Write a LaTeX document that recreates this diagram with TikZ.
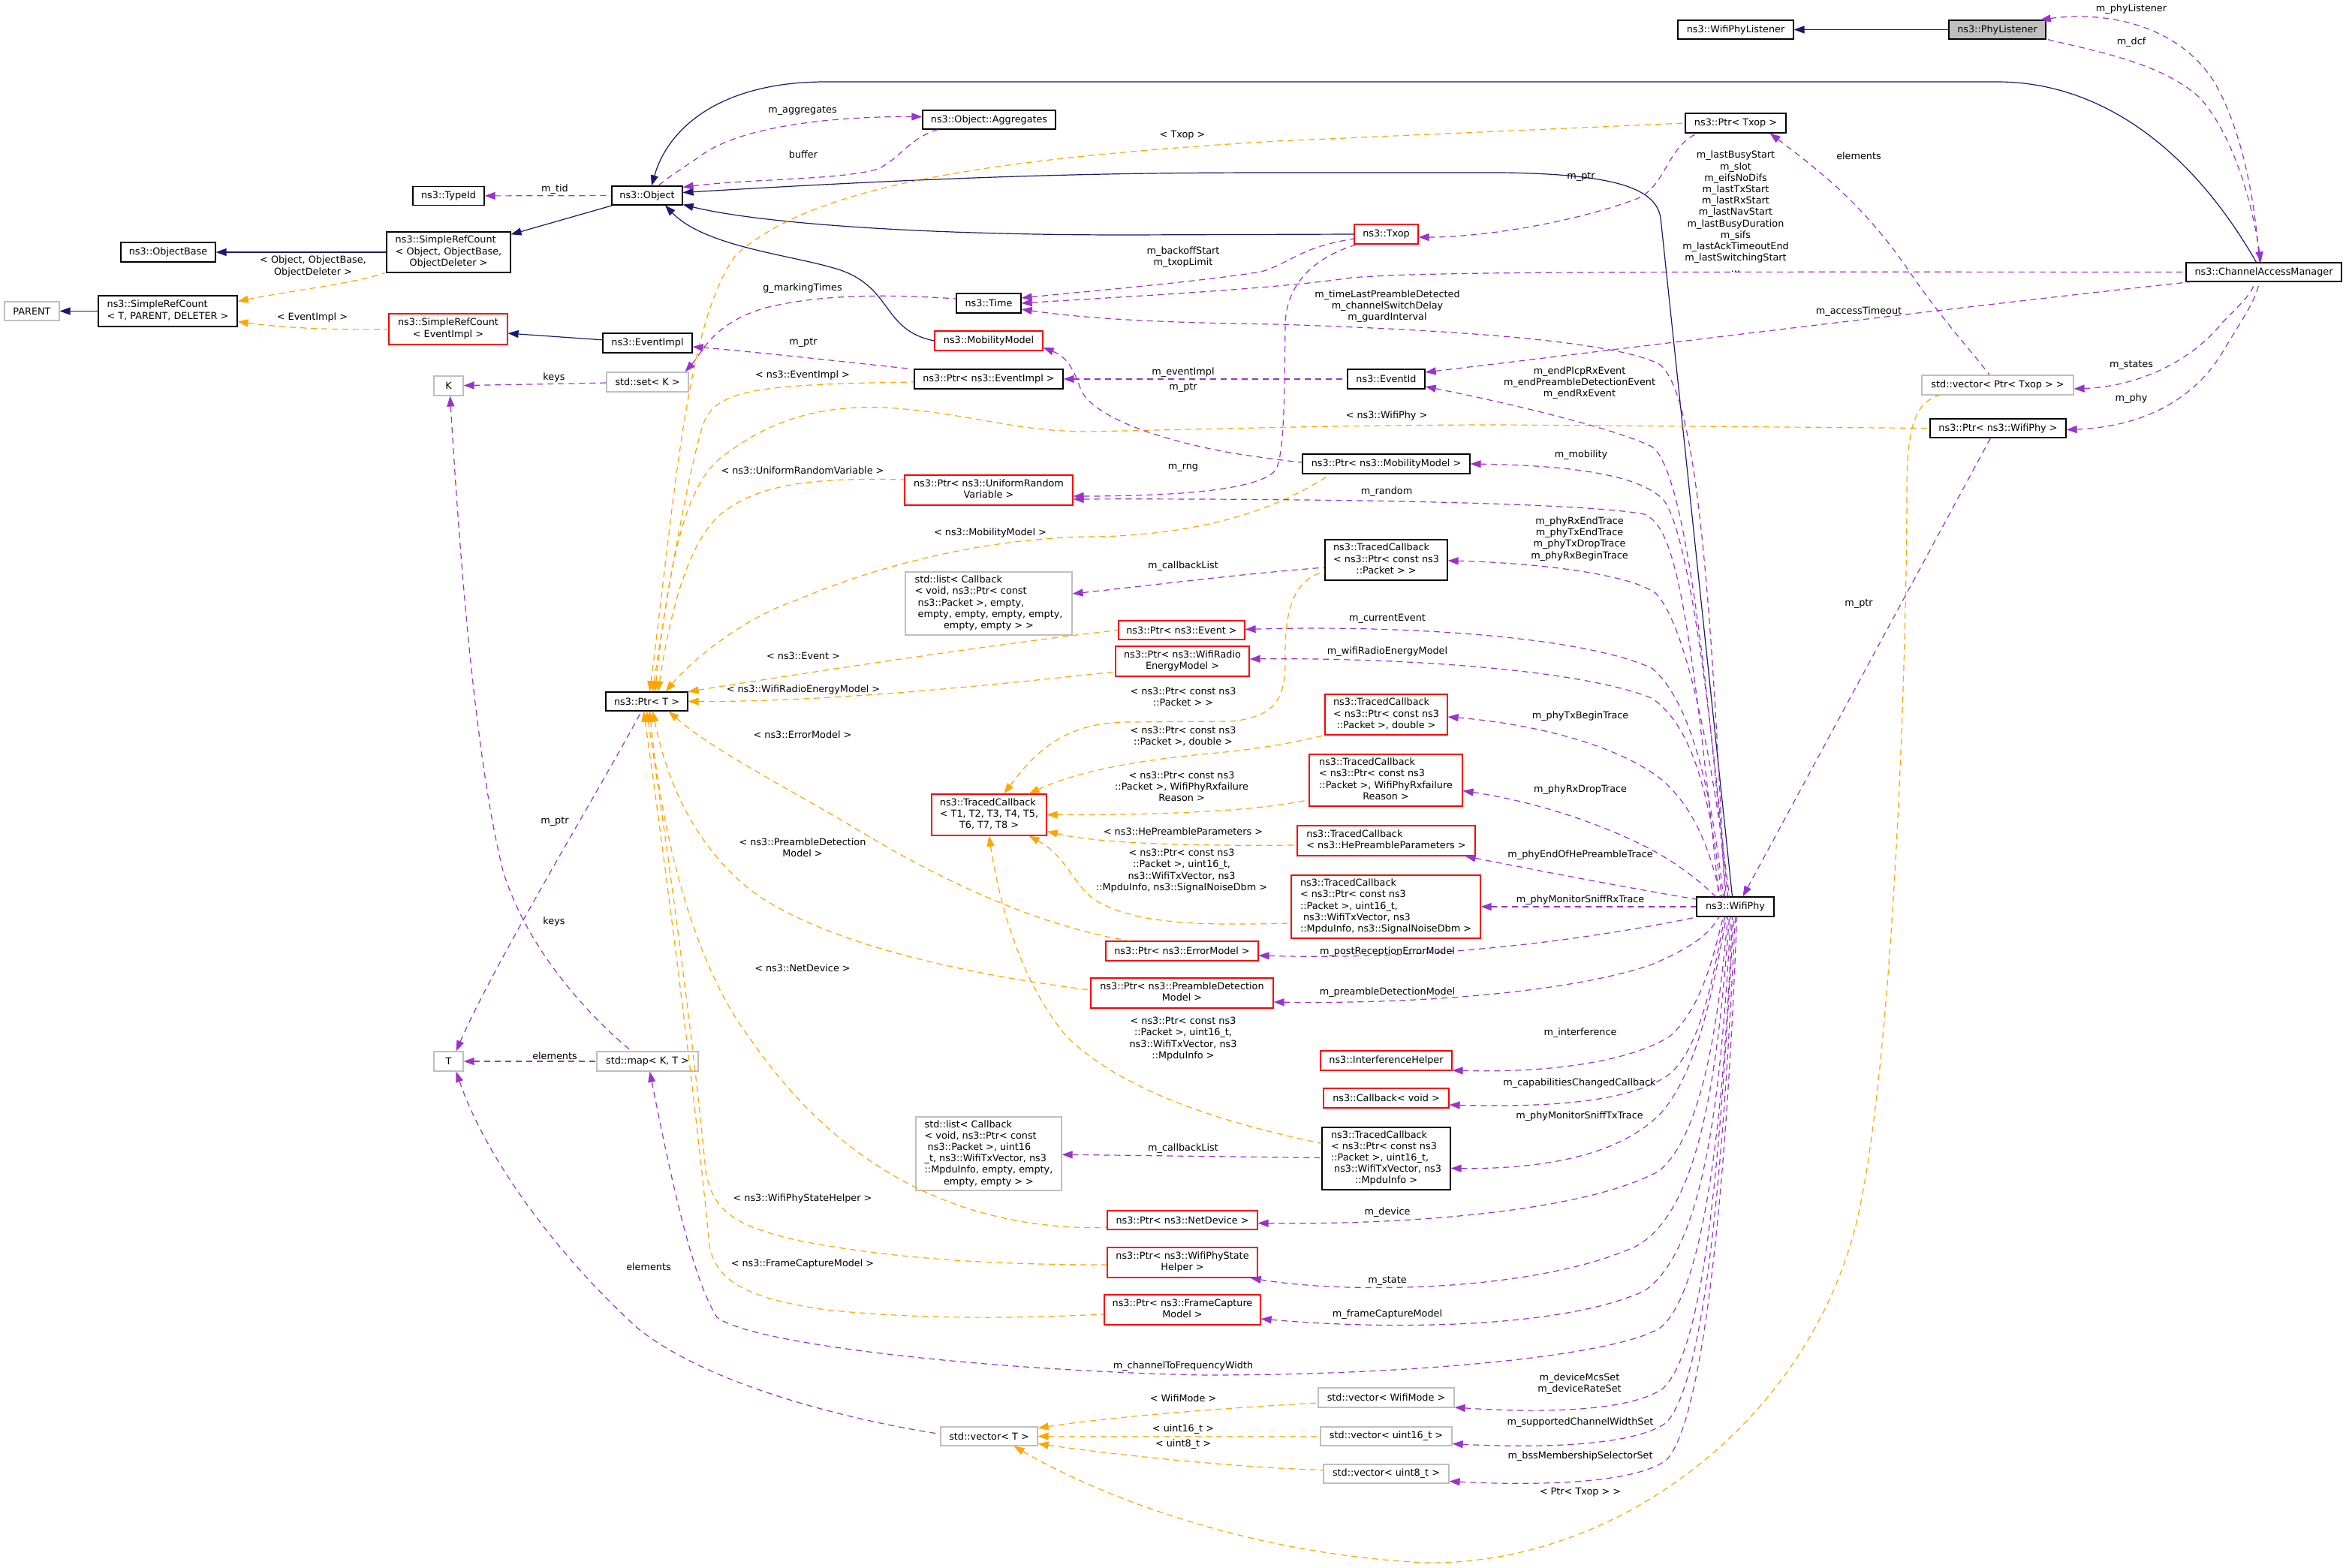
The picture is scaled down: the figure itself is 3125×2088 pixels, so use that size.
\documentclass[tikz,border=0pt]{standalone}
\usepackage{fontspec}
\setmainfont{DejaVu Sans}
\usetikzlibrary{arrows.meta,calc}
\definecolor{navyc}{RGB}{25,25,112}
\definecolor{purplec}{RGB}{154,50,205}
\definecolor{orangec}{RGB}{255,165,0}
\definecolor{greyc}{HTML}{BFBFBF}
\newcommand{\nfont}{\fontsize{6.4pt}{7.6pt}\selectfont}
\newcommand{\ml}[2]{\begin{tabular}{@{}l@{}}#1\\\multicolumn{1}{@{}c@{}}{#2}\end{tabular}}
\tikzset{
  box/.style={draw=black, line width=0.6pt, inner sep=0pt, fill=white, font=\nfont},
  rbox/.style={box, draw=red},
  gbox/.style={box, draw=greyc},
  sz/.style 2 args={minimum width={#1*0.5pt}, minimum height={#2*0.5pt}},
  inh/.style={draw=navyc, line width=0.6pt, {Triangle[length=7pt,width=5pt]}-},
  tmpl/.style={draw=orangec, line width=0.6pt, dash pattern=on 4pt off 3pt, {Triangle[length=7pt,width=5pt]}-},
  use/.style={draw=purplec, line width=0.6pt, dash pattern=on 4pt off 3pt, {Triangle[length=7pt,width=5pt]}-},
  lbl/.style={font=\nfont, align=center, inner sep=0pt}
}
\begin{document}
\begin{tikzpicture}[x=0.5pt,y=-0.5pt]
\path[fill=white,use as bounding box] (0,0) rectangle (3125,2088);

% ---------- nodes ----------
\node[box, sz={154}{25}] (wpl) at (2312,39.5) {ns3::WifiPhyListener};
\node[box, fill=greyc, sz={129}{25}] (phyl) at (2660.5,39.5) {ns3::PhyListener};
\node[box, sz={177}{25}] (aggr) at (1317.5,159.5) {ns3::Object::Aggregates};
\node[box, sz={134}{26}] (ptxop) at (2312,164) {ns3::Ptr< Txop >};
\node[box, sz={95}{25}] (typeid) at (597.5,261) {ns3::TypeId};
\node[box, sz={94}{25}] (object) at (862,260.5) {ns3::Object};
\node[rbox, sz={85}{26}] (txop) at (1846.5,312) {ns3::Txop};
\node[box, sz={165}{54}] (sro) at (597.5,336) {\ml{ns3::SimpleRefCount\\< Object, ObjectBase,}{ObjectDeleter >}};
\node[box, sz={126}{26}] (obase) at (224,336) {ns3::ObjectBase};
\node[box, sz={207}{25}] (cam) at (3015.5,362.5) {ns3::ChannelAccessManager};
\node[gbox, sz={73}{25}] (parent) at (42.5,414.5) {PARENT};
\node[box, sz={185}{41}] (srt) at (223.5,414.5) {\ml{ns3::SimpleRefCount}{< T, PARENT, DELETER >}};
\node[box, sz={86}{26}] (time) at (1317,404) {ns3::Time};
\node[rbox, sz={158}{41}] (sre) at (597,438.5) {\ml{ns3::SimpleRefCount}{< EventImpl >}};
\node[rbox, sz={144}{26}] (mobm) at (1317,454) {ns3::MobilityModel};
\node[box, sz={119}{26}] (eimpl) at (862.5,457) {ns3::EventImpl};
\node[gbox, sz={109}{26}] (stdset) at (862.5,509) {std::set< K >};
\node[gbox, sz={39}{26}] (K) at (597.5,514) {K};
\node[box, sz={198}{26}] (pei) at (1317,505) {ns3::Ptr< ns3::EventImpl >};
\node[box, sz={103}{26}] (eventid) at (1846.5,505) {ns3::EventId};
\node[gbox, sz={202}{26}] (vptxop) at (2661,513) {std::vector< Ptr< Txop > >};
\node[box, sz={181}{25}] (pwp) at (2661.5,570.5) {ns3::Ptr< ns3::WifiPhy >};
\node[box, sz={223}{26}] (pmm) at (1846.5,618) {ns3::Ptr< ns3::MobilityModel >};
\node[rbox, sz={224}{40}] (purv) at (1317,653) {\ml{ns3::Ptr< ns3::UniformRandom}{Variable >}};
\node[box, sz={163}{54}] (tcp) at (1846.5,746) {\ml{ns3::TracedCallback\\< ns3::Ptr< const ns3}{::Packet > >}};
\node[gbox, sz={222}{84}] (list1) at (1317,804) {\ml{std::list< Callback\\< void, ns3::Ptr< const\\\ ns3::Packet >, empty,\\\ empty, empty, empty, empty,}{empty, empty > >}};
\node[rbox, sz={168}{25}] (pev) at (1574,839.5) {ns3::Ptr< ns3::Event >};
\node[rbox, sz={178}{40}] (pwre) at (1575,881) {\ml{ns3::Ptr< ns3::WifiRadio}{EnergyModel >}};
\node[box, sz={109}{25}] (ptrT) at (861.5,934.5) {ns3::Ptr< T >};
\node[rbox, sz={163}{54}] (tcd) at (1846.5,952) {\ml{ns3::TracedCallback\\< ns3::Ptr< const ns3}{::Packet >, double >}};
\node[rbox, sz={153}{55}] (tcgen) at (1317.5,1085.5) {\ml{ns3::TracedCallback\\< T1, T2, T3, T4, T5,}{T6, T7, T8 >}};
\node[rbox, sz={204}{69}] (tcrx) at (1846,1039.5) {\ml{ns3::TracedCallback\\< ns3::Ptr< const ns3\\::Packet >, WifiPhyRxfailure}{Reason >}};
\node[rbox, sz={237}{40}] (tche) at (1846.5,1120) {\ml{ns3::TracedCallback}{< ns3::HePreambleParameters >}};
\node[rbox, sz={252}{84}] (tcsn) at (1846,1208) {\ml{ns3::TracedCallback\\< ns3::Ptr< const ns3\\::Packet >, uint16\_t,\\\ ns3::WifiTxVector, ns3}{::MpduInfo, ns3::SignalNoiseDbm >}};
\node[box, sz={103}{26}] (wifiphy) at (2311.5,1208) {ns3::WifiPhy};
\node[rbox, sz={203}{26}] (perr) at (1574.5,1267) {ns3::Ptr< ns3::ErrorModel >};
\node[rbox, sz={243}{40}] (ppd) at (1574.5,1323) {\ml{ns3::Ptr< ns3::PreambleDetection}{Model >}};
\node[gbox, sz={39}{26}] (T) at (597.5,1414) {T};
\node[gbox, sz={135}{26}] (map) at (862.5,1414) {std::map< K, T >};
\node[rbox, sz={175}{26}] (ih) at (1846.5,1413) {ns3::InterferenceHelper};
\node[rbox, sz={167}{26}] (cbv) at (1846.5,1463) {ns3::Callback< void >};
\node[gbox, sz={194}{98}] (list2) at (1317,1537) {\ml{std::list< Callback\\< void, ns3::Ptr< const\\\ ns3::Packet >, uint16\\\_t, ns3::WifiTxVector, ns3\\::MpduInfo, empty, empty,}{empty, empty > >}};
\node[box, sz={171}{83}] (tcm) at (1846.5,1543.5) {\ml{ns3::TracedCallback\\< ns3::Ptr< const ns3\\::Packet >, uint16\_t,\\\ ns3::WifiTxVector, ns3}{::MpduInfo >}};
\node[rbox, sz={200}{25}] (pnd) at (1575,1625.5) {ns3::Ptr< ns3::NetDevice >};
\node[rbox, sz={200}{40}] (pwsh) at (1575,1682) {\ml{ns3::Ptr< ns3::WifiPhyState}{Helper >}};
\node[rbox, sz={208}{40}] (pfc) at (1575,1745) {\ml{ns3::Ptr< ns3::FrameCapture}{Model >}};
\node[gbox, sz={181}{26}] (vwm) at (1846.5,1862) {std::vector< WifiMode >};
\node[gbox, sz={129}{25}] (vT) at (1317.5,1913.5) {std::vector< T >};
\node[gbox, sz={175}{25}] (vu16) at (1846.5,1913.5) {std::vector< uint16\_t >};
\node[gbox, sz={167}{25}] (vu8) at (1846.5,1963.5) {std::vector< uint8\_t >};

% ---------- inheritance ----------
\draw[inh] (sro) -- (object);
\draw[inh] (obase) -- (sro);
\draw[inh] (parent) -- (srt);
\draw[inh] (sre) -- (eimpl);
\draw[inh] ($(object.north)+(6,0)$) .. controls (890,170) and (960,109) .. (1100,109) -- (2660,109) .. controls (2800,109) and (2920,200) .. ($(cam.north)+(-10,0)$);
\draw[inh] ($(object.east)+(0,-4)$) .. controls (1300,233) and (1500,230) .. (1700,230) -- (2000,230) .. controls (2150,232) and (2205,250) .. (2212,290) -- ($(wifiphy.north)+(-4,0)$);
\draw[inh] ($(object.east)+(0,12)$) .. controls (1000,295) and (1200,313) .. (1500,313) -- (txop.west);
\draw[inh] ($(object.south)+(24,0)$) .. controls (940,330) and (1060,340) .. (1120,360) .. controls (1190,385) and (1175,440) .. (mobm.west);
\draw[inh] (wpl) -- (phyl);

% ---------- template instances ----------
\draw[tmpl] ($(srt.east)+(0,-13)$) .. controls (400,385) and (470,378) .. ($(sro.south west)+(-2,0)$);
\draw[tmpl] ($(srt.east)+(0,14)$) .. controls (380,437) and (450,440) .. (sre.west);
\draw[tmpl] ($(ptrT.north)+(4,0)$) .. controls (900,650) and (915,430) .. (980,340) .. controls (1080,250) and (1300,212) .. (1700,188) -- (ptxop.west);
\draw[tmpl] ($(ptrT.north)+(8,0)$) .. controls (890,780) and (915,640) .. (935,570) .. controls (950,520) and (1000,512) .. ($(pei.west)+(0,4)$);
\draw[tmpl] ($(ptrT.north)+(11,0)$) .. controls (890,760) and (910,650) .. (960,610) .. controls (1030,555) and (1100,540) .. (1180,543) .. controls (1290,550) and (1350,575) .. (1450,575) .. controls (1600,572) and (1800,566) .. (2000,566) -- (pwp.west);
\draw[tmpl] ($(ptrT.north)+(15,0)$) .. controls (895,800) and (920,720) .. (960,685) .. controls (1010,645) and (1080,636) .. ($(purv.west)+(0,-14)$);
\draw[tmpl] ($(ptrT.north east)+(-30,0)$) .. controls (930,870) and (1000,820) .. (1060,800) .. controls (1200,740) and (1350,715) .. (1460,715) .. controls (1600,712) and (1700,680) .. ($(pmm.south west)+(38,0)$);
\draw[tmpl] ($(ptrT.east)+(0,-13)$) .. controls (1100,892) and (1350,855) .. (pev.west);
\draw[tmpl] (ptrT.east) .. controls (1100,935) and (1300,915) .. ($(pwre.west)+(0,14)$);
\draw[tmpl] ($(ptrT.south east)+(-26,0)$) .. controls (950,1000) and (1050,1050) .. (1150,1110) .. controls (1300,1200) and (1420,1240) .. ($(perr.north west)+(32,0)$);
\draw[tmpl] ($(ptrT.south)+(8,0)$) .. controls (890,1050) and (930,1130) .. (1000,1186) .. controls (1100,1260) and (1300,1300) .. ($(ppd.west)+(0,-4)$);
\draw[tmpl] ($(ptrT.south)+(4,0)$) .. controls (880,1100) and (920,1280) .. (1000,1385) .. controls (1100,1530) and (1250,1640) .. ($(pnd.west)+(0,10)$);
\draw[tmpl] (ptrT.south) .. controls (900,1200) and (930,1450) .. (940,1560) .. controls (950,1620) and (990,1635) .. (1060,1652) .. controls (1200,1680) and (1350,1685) .. ($(pwsh.west)+(0,3)$);
\draw[tmpl] ($(ptrT.south)+(-4,0)$) .. controls (900,1250) and (935,1550) .. (945,1660) .. controls (955,1710) and (1000,1730) .. (1100,1745) .. controls (1250,1760) and (1380,1755) .. ($(pfc.west)+(0,6)$);
\draw[tmpl] ($(tcgen.north)+(20,0)$) .. controls (1380,1000) and (1420,963) .. (1500,962) -- (1640,961) .. controls (1700,955) and (1712,930) .. (1712,880) .. controls (1710,800) and (1730,770) .. ($(tcp.west)+(0,16)$);
\draw[tmpl] ($(tcgen.north east)+(-24,0)$) .. controls (1430,1030) and (1500,1015) .. (1600,1005) .. controls (1680,998) and (1720,990) .. (tcd.south west);
\draw[tmpl] (tcgen.east) .. controls (1550,1086) and (1680,1080) .. ($(tcrx.west)+(0,26)$);
\draw[tmpl] ($(tcgen.east)+(0,22)$) .. controls (1470,1125) and (1600,1127) .. ($(tche.west)+(0,6)$);
\draw[tmpl] ($(tcgen.south east)+(-24,0)$) .. controls (1420,1140) and (1430,1180) .. (1460,1200) .. controls (1520,1235) and (1620,1232) .. ($(tcsn.west)+(0,22)$);
\draw[tmpl] (tcgen.south) .. controls (1335,1230) and (1370,1320) .. (1420,1380) .. controls (1500,1460) and (1650,1500) .. ($(tcm.west)+(0,-20)$);
\draw[tmpl] ($(vT.east)+(0,-11)$) .. controls (1500,1885) and (1650,1875) .. ($(vwm.west)+(0,7)$);
\draw[tmpl] (vT.east) -- (vu16.west);
\draw[tmpl] ($(vT.east)+(0,10)$) .. controls (1500,1940) and (1650,1955) .. ($(vu8.west)+(0,-5)$);
\draw[tmpl] ($(vT.south east)+(-32,0)$) .. controls (1450,1985) and (1650,2070) .. (1900,2082) .. controls (2150,2085) and (2400,1900) .. (2470,1640) .. controls (2520,1450) and (2540,900) .. (2540,650) .. controls (2540,560) and (2555,535) .. ($(vptxop.south west)+(24,0)$);

% ---------- usage ----------
\draw[use] (typeid) -- (object);
\draw[use] ($(aggr.west)+(0,-4)$) .. controls (1100,155) and (980,170) .. (930,210) .. controls (900,230) and (885,240) .. ($(object.north)+(15,0)$);
\draw[use] ($(object.north east)+(0,2)$) .. controls (1000,238) and (1120,240) .. (1170,225) .. controls (1200,210) and (1210,185) .. ($(aggr.south west)+(21,0)$);
\draw[use] ($(stdset.north east)+(-5,0)$) .. controls (935,470) and (950,430) .. (1020,410) .. controls (1100,390) and (1200,393) .. ($(time.west)+(0,-6)$);
\draw[use] (K) -- (stdset);
\draw[use] ($(eimpl.east)+(0,5)$) .. controls (1020,470) and (1150,485) .. ($(pei.north west)+(-4,0)$);
\draw[use] (pei) -- (eventid);
\draw[use] ($(mobm.east)+(0,9)$) .. controls (1420,475) and (1430,490) .. (1440,520) .. controls (1460,560) and (1560,590) .. (1650,605) .. controls (1690,611) and (1715,614) .. ($(pmm.west)+(0,-2)$);
\draw[use] ($(purv.east)+(0,8)$) .. controls (1550,661) and (1680,655) .. (1700,625) .. controls (1712,600) and (1711,500) .. (1712,430) .. controls (1715,370) and (1760,340) .. ($(txop.south west)+(4,0)$);
\draw[use] ($(purv.east)+(0,12)$) .. controls (1700,664) and (2100,668) .. (2190,685) .. controls (2230,700) and (2250,800) .. ($(wifiphy.north)+(-22,0)$);
\draw[use] ($(txop.east)+(0,4)$) .. controls (1980,316) and (2100,295) .. (2180,265) .. controls (2220,248) and (2220,195) .. ($(ptxop.south west)+(17,0)$);
\draw[use] ($(time.east)+(0,-7)$) .. controls (1450,388) and (1600,375) .. (1680,362) .. controls (1720,350) and (1730,330) .. ($(txop.west)+(0,6)$);
\draw[use] (time.east) .. controls (1500,395) and (1700,385) .. (1800,370) .. controls (1900,362) and (2100,362) .. (cam.west);
\draw[use] ($(time.east)+(0,8)$) .. controls (1450,425) and (1550,430) .. (1700,432) .. controls (1950,440) and (2150,455) .. (2210,485) .. controls (2260,520) and (2280,800) .. ($(wifiphy.north)+(-14,0)$);
\draw[use] ($(eventid.east)+(0,-9)$) .. controls (2200,460) and (2600,410) .. ($(cam.south west)+(6,0)$);
\draw[use] ($(eventid.east)+(0,10)$) .. controls (2000,535) and (2150,570) .. (2200,595) .. controls (2240,620) and (2270,850) .. ($(wifiphy.north)+(-12,0)$);
\draw[use] ($(phyl.north east)+(-8,0)$) .. controls (2800,15) and (2900,30) .. (2950,110) .. controls (2990,180) and (3005,280) .. ($(cam.north)+(-6,0)$);
\draw[use] ($(cam.north)+(-4,0)$) .. controls (3000,270) and (2975,180) .. (2930,130) .. controls (2880,85) and (2800,70) .. ($(phyl.south east)+(2,0)$);
\draw[use] ($(vptxop.east)+(0,5)$) .. controls (2850,515) and (2920,480) .. (2960,430) .. controls (2990,400) and (3000,390) .. ($(cam.south)+(-12,0)$);
\draw[use] ($(pwp.east)+(0,2)$) .. controls (2870,568) and (2930,520) .. (2960,470) .. controls (2990,420) and (3005,400) .. ($(cam.south)+(-6,0)$);
\draw[use] ($(ptxop.south east)+(-22,0)$) .. controls (2420,225) and (2480,270) .. (2540,357) .. controls (2590,430) and (2620,460) .. ($(vptxop.north)+(-11,0)$);
\draw[use] ($(wifiphy.north)+(10,0)$) -- ($(pwp.south)+(-10,0)$);
\draw[use] (pmm.east) .. controls (2080,620) and (2180,630) .. (2215,665) .. controls (2245,700) and (2275,900) .. ($(wifiphy.north)+(-10,0)$);
\draw[use] ($(list1.east)+(0,-13)$) .. controls (1550,778) and (1650,765) .. ($(tcp.west)+(0,10)$);
\draw[use] ($(tcp.east)+(0,1)$) .. controls (2050,750) and (2170,765) .. (2205,790) .. controls (2245,830) and (2280,1000) .. ($(wifiphy.north)+(-8,0)$);
\draw[use] ($(pev.east)+(0,-1)$) .. controls (1850,833) and (2100,845) .. (2200,890) .. controls (2250,930) and (2280,1050) .. ($(wifiphy.north)+(-16,0)$);
\draw[use] ($(pwre.east)+(0,-3)$) .. controls (1850,876) and (2100,890) .. (2200,930) .. controls (2260,970) and (2280,1080) .. ($(wifiphy.north)+(-18,0)$);
\draw[use] ($(tcd.east)+(0,3)$) .. controls (2050,965) and (2160,995) .. (2215,1040) .. controls (2260,1080) and (2280,1140) .. ($(wifiphy.north)+(-20,0)$);
\draw[use] ($(tcrx.east)+(0,14)$) .. controls (2060,1070) and (2170,1110) .. (2230,1150) .. controls (2260,1170) and (2275,1185) .. ($(wifiphy.north)+(-26,0)$);
\draw[use] ($(tche.south east)+(-14,0)$) .. controls (2050,1160) and (2180,1185) .. ($(wifiphy.west)+(0,-10)$);
\draw[use] (tcsn) -- (wifiphy);
\draw[use] ($(perr.east)+(0,6)$) .. controls (1850,1278) and (2050,1265) .. ($(wifiphy.south west)+(2,0)$);
\draw[use] ($(ppd.east)+(0,12)$) .. controls (1900,1338) and (2100,1320) .. (2200,1285) .. controls (2260,1260) and (2280,1240) .. ($(wifiphy.south)+(-22,0)$);
\draw[use] ($(ih.east)+(0,13)$) .. controls (2080,1430) and (2180,1410) .. (2225,1380) .. controls (2270,1340) and (2285,1260) .. ($(wifiphy.south)+(-16,0)$);
\draw[use] ($(cbv.east)+(0,9)$) .. controls (2080,1476) and (2180,1465) .. (2225,1430) .. controls (2270,1390) and (2285,1280) .. ($(wifiphy.south)+(-14,0)$);
\draw[use] ($(tcm.east)+(0,13)$) .. controls (2080,1558) and (2170,1530) .. (2215,1480) .. controls (2265,1420) and (2285,1300) .. ($(wifiphy.south)+(-12,0)$);
\draw[use] (list2) -- (tcm);
\draw[use] ($(pnd.east)+(0,4)$) .. controls (1900,1632) and (2120,1610) .. (2210,1560) .. controls (2270,1510) and (2290,1350) .. ($(wifiphy.south)+(-10,0)$);
\draw[use] ($(pwsh.south east)+(-10,0)$) .. controls (1800,1725) and (2050,1720) .. (2180,1660) .. controls (2270,1610) and (2290,1400) .. ($(wifiphy.south)+(-8,0)$);
\draw[use] ($(pfc.east)+(0,12)$) .. controls (1850,1772) and (2080,1770) .. (2190,1720) .. controls (2280,1660) and (2295,1400) .. ($(wifiphy.south)+(-6,0)$);
\draw[use] ($(map.south)+(3,0)$) .. controls (890,1550) and (920,1700) .. (955,1755) .. controls (1000,1790) and (1300,1825) .. (1600,1832) .. controls (1900,1832) and (2150,1805) .. (2210,1770) .. controls (2280,1720) and (2300,1400) .. ($(wifiphy.south)+(-4,0)$);
\draw[use] ($(vwm.east)+(0,13)$) .. controls (2060,1883) and (2170,1880) .. (2215,1850) .. controls (2280,1790) and (2295,1450) .. ($(wifiphy.south)+(-2,0)$);
\draw[use] ($(vu16.east)+(0,10)$) .. controls (2060,1930) and (2180,1925) .. (2220,1895) .. controls (2280,1830) and (2300,1450) .. (wifiphy.south);
\draw[use] ($(vu8.east)+(0,10)$) .. controls (2060,1980) and (2180,1975) .. (2220,1945) .. controls (2280,1880) and (2305,1450) .. ($(wifiphy.south)+(2,0)$);
\draw[use] ($(T.north east)+(-10,0)$) .. controls (660,1280) and (800,1050) .. ($(ptrT.south west)+(48,0)$);
\draw[use] ($(K.south)+(2,0)$) .. controls (610,700) and (630,1000) .. (670,1160) .. controls (700,1260) and (780,1350) .. ($(map.north west)+(47,0)$);
\draw[use] (T) -- (map);
\draw[use] ($(T.south)+(10,0)$) .. controls (650,1550) and (750,1680) .. (850,1770) .. controls (950,1850) and (1150,1895) .. ($(vT.west)+(0,-3)$);

% ---------- labels ----------
\node[lbl] (l01) at (739,252) {m\_tid};
\node[lbl] (l02) at (417,355) {< Object, ObjectBase,\\ObjectDeleter >};
\node[lbl] (l03) at (416,423) {< EventImpl >};
\node[lbl] (l04) at (738,503) {keys};
\node[lbl] (l05) at (1069,148) {m\_aggregates};
\node[lbl] (l06) at (1070,206) {buffer};
\node[lbl] (l07) at (1575,180) {< Txop >};
\node[lbl] (l08) at (1576,343) {m\_backoffStart\\m\_txopLimit};
\node[lbl] (l09) at (1069,384) {g\_markingTimes};
\node[lbl] (l10) at (1070,457) {m\_ptr};
\node[lbl] (l11) at (1069,500) {< ns3::EventImpl >};
\node[lbl] (l12) at (1576,496) {m\_eventImpl};
\node[lbl] (l13) at (1576,517) {m\_ptr};
\node[lbl] (l14) at (1069,627) {< ns3::UniformRandomVariable >};
\node[lbl] (l15) at (1576,623) {m\_rng};
\node[lbl] (l16) at (2106,236) {m\_ptr};
\node[lbl] (l17) at (2312,282) {m\_lastBusyStart\\m\_slot\\m\_eifsNoDifs\\m\_lastTxStart\\m\_lastRxStart\\m\_lastNavStart\\m\_lastBusyDuration\\m\_sifs\\m\_lastAckTimeoutEnd\\m\_lastSwitchingStart\\...};
\node[lbl] (l18) at (1848,408) {m\_timeLastPreambleDetected\\m\_channelSwitchDelay\\m\_guardInterval};
\node[lbl] (l19) at (2104,510) {m\_endPlcpRxEvent\\m\_endPreambleDetectionEvent\\m\_endRxEvent};
\node[lbl] (l20) at (1847,554) {< ns3::WifiPhy >};
\node[lbl] (l21) at (2106,606) {m\_mobility};
\node[lbl] (l22) at (1847,655) {m\_random};
\node[lbl] (l23) at (2839,12) {m\_phyListener};
\node[lbl] (l24) at (2839,56) {m\_dcf};
\node[lbl] (l25) at (2476,208) {elements};
\node[lbl] (l26) at (2476,415) {m\_accessTimeout};
\node[lbl] (l27) at (2839,487) {m\_states};
\node[lbl] (l28) at (2839,531) {m\_phy};
\node[lbl] (l29) at (739,1094) {m\_ptr};
\node[lbl] (l30) at (738,1228) {keys};
\node[lbl] (l31) at (739,1407) {elements};
\node[lbl] (l32) at (1319,710) {< ns3::MobilityModel >};
\node[lbl] (l33) at (1576,754) {m\_callbackList};
\node[lbl] (l34) at (1070,874) {< ns3::Event >};
\node[lbl] (l35) at (1070,919) {< ns3::WifiRadioEnergyModel >};
\node[lbl] (l36) at (1576,928) {< ns3::Ptr< const ns3\\::Packet > >};
\node[lbl] (l37) at (1576,981) {< ns3::Ptr< const ns3\\::Packet >, double >};
\node[lbl] (l38) at (1069,979) {< ns3::ErrorModel >};
\node[lbl] (l39) at (1574,1048) {< ns3::Ptr< const ns3\\::Packet >, WifiPhyRxfailure\\Reason >};
\node[lbl] (l40) at (1576,1108) {< ns3::HePreambleParameters >};
\node[lbl] (l41) at (1574,1160) {< ns3::Ptr< const ns3\\::Packet >, uint16\_t,\\ns3::WifiTxVector, ns3\\::MpduInfo, ns3::SignalNoiseDbm >};
\node[lbl] (l42) at (1069,1129) {< ns3::PreambleDetection\\Model >};
\node[lbl] (l43) at (1069,1290) {< ns3::NetDevice >};
\node[lbl] (l44) at (1576,1384) {< ns3::Ptr< const ns3\\::Packet >, uint16\_t,\\ns3::WifiTxVector, ns3\\::MpduInfo >};
\node[lbl] (l45) at (2104,718) {m\_phyRxEndTrace\\m\_phyTxEndTrace\\m\_phyTxDropTrace\\m\_phyRxBeginTrace};
\node[lbl] (l46) at (1848,824) {m\_currentEvent};
\node[lbl] (l47) at (1848,868) {m\_wifiRadioEnergyModel};
\node[lbl] (l48) at (2105,954) {m\_phyTxBeginTrace};
\node[lbl] (l49) at (2105,1052) {m\_phyRxDropTrace};
\node[lbl] (l50) at (2105,1139) {m\_phyEndOfHePreambleTrace};
\node[lbl] (l51) at (2105,1199) {m\_phyMonitorSniffRxTrace};
\node[lbl] (l52) at (1848,1268) {m\_postReceptionErrorModel};
\node[lbl] (l53) at (1848,1322) {m\_preambleDetectionModel};
\node[lbl] (l54) at (2476,805) {m\_ptr};
\node[lbl] (l55) at (2105,1376) {m\_interference};
\node[lbl] (l56) at (2104,1443) {m\_capabilitiesChangedCallback};
\node[lbl] (l57) at (2104,1487) {m\_phyMonitorSniffTxTrace};
\node[lbl] (l58) at (1576,1530) {m\_callbackList};
\node[lbl] (l59) at (1069,1597) {< ns3::WifiPhyStateHelper >};
\node[lbl] (l60) at (1069,1684) {< ns3::FrameCaptureModel >};
\node[lbl] (l61) at (1848,1615) {m\_device};
\node[lbl] (l62) at (1848,1706) {m\_state};
\node[lbl] (l63) at (1848,1751) {m\_frameCaptureModel};
\node[lbl] (l64) at (1576,1820) {m\_channelToFrequencyWidth};
\node[lbl] (l65) at (864,1688) {elements};
\node[lbl] (l66) at (1576,1863) {< WifiMode >};
\node[lbl] (l67) at (1576,1904) {< uint16\_t >};
\node[lbl] (l68) at (1576,1924) {< uint8\_t >};
\node[lbl] (l69) at (2104,1844) {m\_deviceMcsSet\\m\_deviceRateSet};
\node[lbl] (l70) at (2105,1895) {m\_supportedChannelWidthSet};
\node[lbl] (l71) at (2105,1940) {m\_bssMembershipSelectorSet};
\node[lbl] (l72) at (2105,1988) {< Ptr< Txop > >};
\end{tikzpicture}
\end{document}
